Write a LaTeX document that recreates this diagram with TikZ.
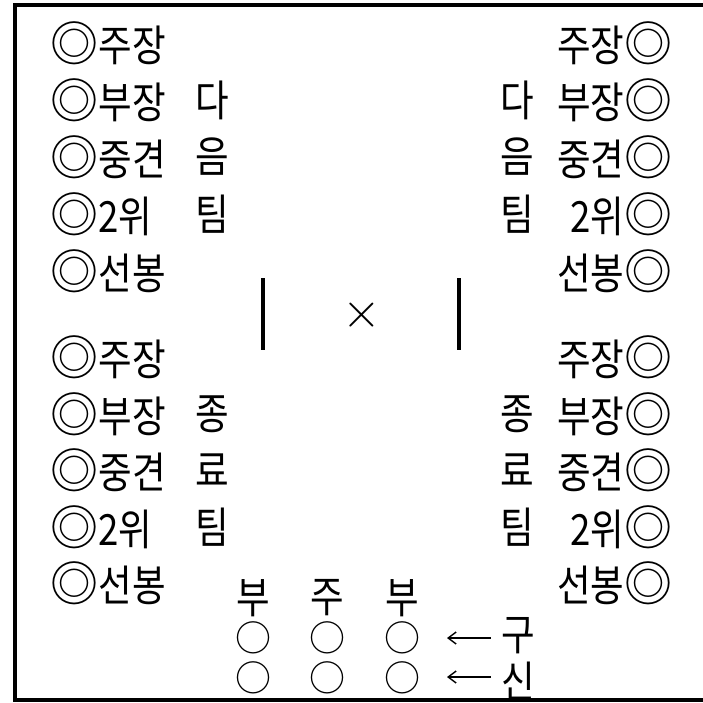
\documentclass[tikz,border=0pt]{standalone}
\usepackage{fontspec}
\setmainfont{Noto Sans CJK KR}[FakeStretch=0.85]
\newfontfamily\symfont{Noto Sans CJK KR}
\usepackage{tikz}
\usetikzlibrary{arrows.meta}

\newcommand{\dcirc}{{\symfont\fontsize{24}{24}\selectfont ◎}}

\begin{document}
\begin{tikzpicture}[x=0.5pt, y=-0.5pt, every node/.style={inner sep=0pt, font=\fontsize{21.5}{22}\selectfont}]
  \useasboundingbox (0,0) rectangle (703,703);
  \draw[line width=2pt] (712,5) -- (14.5,5) -- (14.5,700) -- (712,700);
  % players, both sides
  \foreach \i/\y/\t in {1/43/주장, 2/100/부장, 3/157/중견, 4/214/2위, 5/271/선봉,
                        6/357/주장, 7/414/부장, 8/470/중견, 9/527/2위, 10/583/선봉}
  {
    \node[anchor=west] (l\i) at (50,\y) {\dcirc\t};
    \node[anchor=east] (r\i) at (673,\y) {\t\dcirc};
  }
  \foreach \i/\y/\t in {2/100/다, 3/157/음, 4/214/팀, 7/414/종, 8/470/료, 9/527/팀}
  {
    \node (lx\i) at (212,\y) {\t};
    \node (rx\i) at (517,\y) {\t};
  }
  \draw[line width=2pt] (263,278) -- (263,350);
  \draw[line width=2pt] (459,278) -- (459,350);
  \node[font=\fontsize{30}{30}\selectfont] (vs) at (362,315) {$\times$};
  % positions below
  \foreach \i/\x/\t in {1/253/부, 2/327/주, 3/402/부}
  {
    \node (p\i) at (\x,598) {\t};
    \node[font=\symfont\fontsize{18}{18}\selectfont] (a\i) at (\x,638) {○};
    \node[font=\symfont\fontsize{18}{18}\selectfont] (b\i) at (\x,678) {○};
  }
  \node (gu) at (518,636) {구};
  \node (sin) at (518,681) {신};
  \coordinate (ga) at (447,638);
  \coordinate (sa) at (447,677);
  \draw[-{Straight Barb[length=4pt,width=6pt]}, line width=0.7pt] (gu.west |- ga) ++(-10,0) -- (ga);
  \draw[-{Straight Barb[length=4pt,width=6pt]}, line width=0.7pt] (sin.west |- sa) ++(-10,0) -- (sa);
\end{tikzpicture}
\end{document}
